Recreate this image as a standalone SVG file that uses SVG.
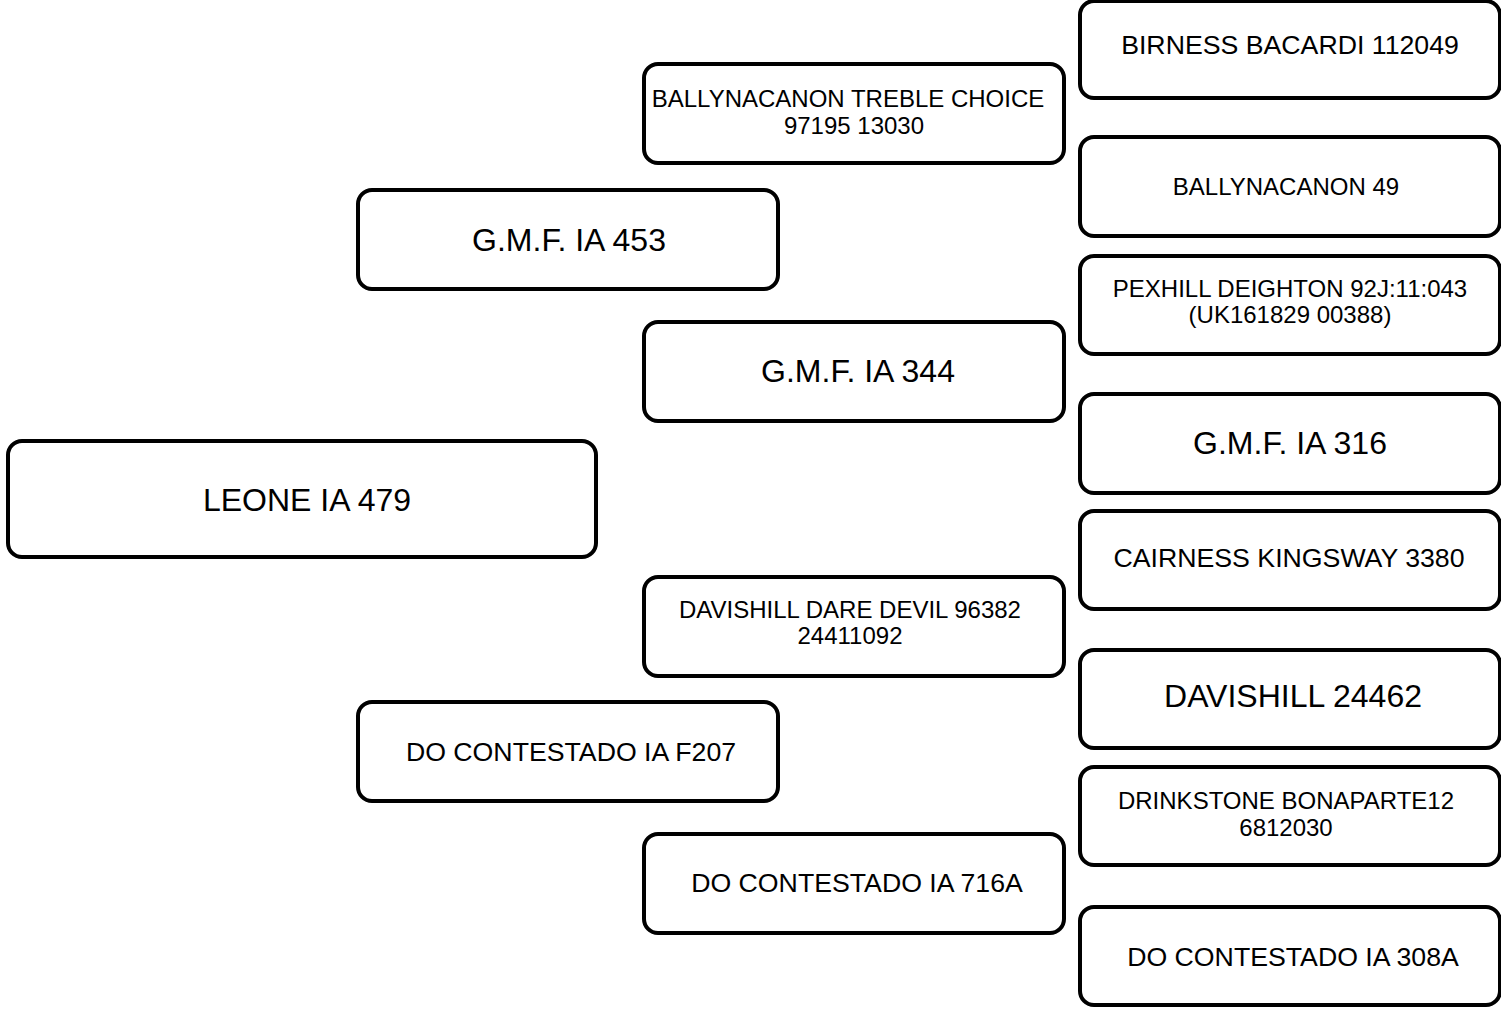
<svg xmlns="http://www.w3.org/2000/svg" width="1501" height="1011" viewBox="0 0 1501 1011">
<style>
.box{fill:#fff;stroke:#000;stroke-width:4}
text{font-family:"Liberation Sans",Arial,sans-serif;fill:#000;text-anchor:middle}
.l{font-size:32px}
.m{font-size:26.7px}
.s{font-size:24px}
</style>
<rect width="1501" height="1011" fill="#fff"/>
<g id="connectors"/>
<g id="n-leone"><rect class="box" x="8" y="441" width="588" height="116" rx="14"/><text class="l" x="307" y="511">LEONE IA 479</text></g>
<g id="n-gmf453"><rect class="box" x="358" y="190" width="420" height="99" rx="14"/><text class="l" x="569" y="251">G.M.F. IA 453</text></g>
<g id="n-f207"><rect class="box" x="358" y="702" width="420" height="99" rx="14"/><text class="m" x="571" y="761">DO CONTESTADO IA F207</text></g>
<g id="n-treble"><rect class="box" x="644" y="64" width="420" height="99" rx="14"/><text class="s" x="848" y="107">BALLYNACANON TREBLE CHOICE</text><text class="s" x="854" y="134">97195 13030</text></g>
<g id="n-gmf344"><rect class="box" x="644" y="322" width="420" height="99" rx="14"/><text class="l" x="858" y="382">G.M.F. IA 344</text></g>
<g id="n-daredevil"><rect class="box" x="644" y="577" width="420" height="99" rx="14"/><text class="s" x="850" y="618">DAVISHILL DARE DEVIL 96382</text><text class="s" x="850" y="644">24411092</text></g>
<g id="n-716a"><rect class="box" x="644" y="834" width="420" height="99" rx="14"/><text class="m" x="857" y="892">DO CONTESTADO IA 716A</text></g>
<g id="n-birness"><rect class="box" x="1080" y="1" width="420" height="97" rx="14"/><text class="m" x="1290" y="54">BIRNESS BACARDI 112049</text></g>
<g id="n-bally49"><rect class="box" x="1080" y="137" width="420" height="99" rx="14"/><text class="s" x="1286" y="195">BALLYNACANON 49</text></g>
<g id="n-pexhill"><rect class="box" x="1080" y="256" width="420" height="98" rx="14"/><text class="s" x="1290" y="297">PEXHILL DEIGHTON 92J:11:043</text><text class="s" x="1290" y="323">(UK161829 00388)</text></g>
<g id="n-gmf316"><rect class="box" x="1080" y="394" width="420" height="99" rx="14"/><text class="l" x="1290" y="454">G.M.F. IA 316</text></g>
<g id="n-cairness"><rect class="box" x="1080" y="511" width="420" height="98" rx="14"/><text class="m" x="1289" y="567">CAIRNESS KINGSWAY 3380</text></g>
<g id="n-davishill"><rect class="box" x="1080" y="650" width="420" height="98" rx="14"/><text class="l" x="1293" y="707">DAVISHILL 24462</text></g>
<g id="n-drinkstone"><rect class="box" x="1080" y="767" width="420" height="98" rx="14"/><text class="s" x="1286" y="809">DRINKSTONE BONAPARTE12</text><text class="s" x="1286" y="836">6812030</text></g>
<g id="n-308a"><rect class="box" x="1080" y="907" width="420" height="98" rx="14"/><text class="m" x="1293" y="966">DO CONTESTADO IA 308A</text></g>
</svg>
